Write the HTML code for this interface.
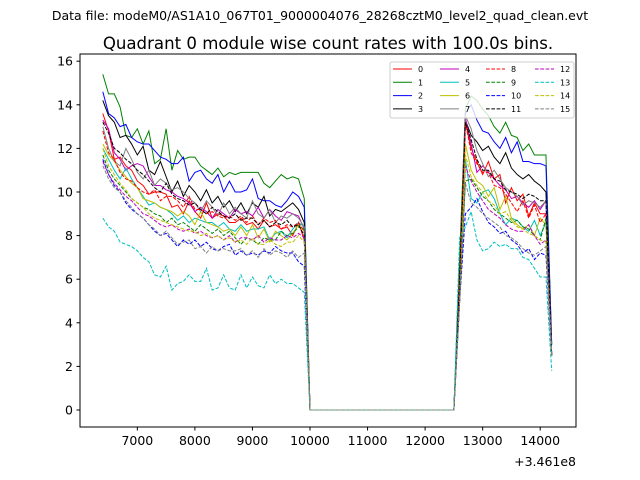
<!DOCTYPE html>
<html><head><meta charset="utf-8"><style>
body{margin:0;background:#fff;}
svg{display:block;font-family:"DejaVu Sans","Liberation Sans",sans-serif;}
</style></head><body>
<svg id="chart" width="640" height="480" viewBox="0 0 640 480">
<text x="320" y="20" text-anchor="middle" font-size="12.5">Data file: modeM0/AS1A10_067T01_9000004076_28268cztM0_level2_quad_clean.evt</text>
<text x="328" y="49" text-anchor="middle" font-size="16.6">Quadrant 0 module wise count rates with 100.0s bins.</text>
<g id="plot"></g>
<rect x="80" y="54" width="496" height="373" fill="none" stroke="#000" stroke-width="1"/>
<g id="xticks"></g>
<g id="yticks"></g>
<text x="576" y="466" text-anchor="end" font-size="12.5">+3.461e8</text>
<g id="legend"></g>
</svg>
<script>
const xTicks=[7000,8000,9000,10000,11000,12000,13000,14000];
const yTicks=[0,2,4,6,8,10,12,14,16];
const seriesNames=["0","1","2","3","4","5","6","7","8","9","10","11","12","13","14","15"];
const zeros=[0,0,0,0,0,0,0,0,0,0,0,0,0,0,0,0,0,0,0,0,0,0,0,0,0,0];
const seg1=[
[13.6,12.8,11.5,11.6,11.2,11.0,10.5,10.3,9.9,10.0,10.0,9.9,9.3,9.4,9.0,9.6,9.1,8.8,9.5,8.8,9.0,8.9,8.6,8.6,8.8,8.5,8.6,8.3,8.7,8.4,8.5,8.3,8.4,8.0,8.6,7.8],
[15.4,14.5,14.5,13.9,12.6,12.5,12.9,12.2,12.8,11.3,11.5,12.9,11.0,11.9,11.5,11.6,11.6,11.2,11.0,10.8,11.1,10.7,10.9,10.8,10.9,10.9,10.9,10.9,10.4,10.2,10.5,10.8,10.6,10.7,10.6,9.7],
[14.6,13.6,13.4,13.0,13.1,12.5,12.3,12.2,12.2,11.9,11.6,11.5,11.3,11.3,11.6,10.5,10.9,11.0,10.6,10.4,10.8,10.0,10.5,10.0,10.0,10.1,10.6,9.7,9.6,9.6,9.4,9.3,9.6,10.0,9.8,9.3],
[14.2,13.5,13.2,12.5,12.6,12.2,11.7,12.1,11.0,10.8,11.4,10.7,10.0,10.5,9.8,10.3,10.0,9.6,10.1,9.5,9.8,9.3,9.6,9.1,9.5,9.0,9.5,9.3,9.8,8.9,9.2,9.1,9.3,9.5,9.2,8.6],
[13.3,12.9,11.8,11.5,11.0,11.2,11.3,11.2,10.7,10.3,10.3,10.1,10.0,9.8,9.7,9.5,9.1,9.3,9.1,8.8,9.2,9.0,8.8,9.2,9.0,9.1,8.9,9.3,8.8,9.2,8.9,8.7,9.1,9.0,8.9,8.3],
[12.0,11.5,11.0,10.6,11.1,10.6,10.2,9.8,9.4,9.5,9.3,9.2,9.0,8.7,8.9,8.6,8.8,8.7,8.6,8.6,8.4,8.6,8.3,8.2,8.5,8.2,8.3,8.3,8.4,7.8,8.1,8.2,7.9,8.3,8.6,8.4],
[12.2,11.7,11.4,11.0,10.7,10.4,10.2,9.7,9.6,9.5,9.3,9.2,9.1,8.9,9.1,8.9,8.5,9.1,8.6,8.5,8.4,8.2,8.3,8.0,8.4,8.0,8.5,7.9,8.3,7.7,8.2,8.0,7.8,8.1,8.5,8.2],
[13.0,12.0,11.4,11.2,12.0,11.5,10.9,10.6,11.0,10.3,10.6,10.4,10.1,10.2,10.0,9.7,9.5,9.1,9.6,9.3,8.9,9.5,9.0,9.3,9.0,8.8,9.6,9.0,8.8,9.2,8.6,8.9,8.8,9.0,8.8,8.4],
[12.8,11.8,11.5,10.9,10.6,10.5,10.2,10.0,9.9,10.1,9.6,9.8,9.8,9.6,9.3,9.8,9.2,9.2,9.0,9.1,8.9,8.8,8.9,8.7,8.9,8.6,8.9,8.5,8.8,8.6,8.7,8.3,8.5,8.4,8.6,8.2],
[11.7,11.0,10.6,10.3,10.0,9.7,9.5,9.3,9.2,9.0,8.9,8.6,8.8,8.5,8.6,8.4,8.2,8.5,8.3,8.1,8.3,8.0,8.2,7.9,7.6,7.9,7.8,7.6,7.9,7.8,7.8,8.2,8.0,8.1,8.4,8.3],
[11.5,10.8,10.3,10.0,9.5,9.2,9.0,8.8,8.5,8.2,8.0,8.1,7.8,7.5,7.8,7.6,7.8,7.5,7.7,7.4,7.3,7.5,7.6,7.1,7.3,7.1,7.2,7.1,7.3,7.2,7.5,7.3,7.2,7.2,6.8,6.6],
[13.2,12.7,12.0,11.8,11.5,11.3,11.0,10.8,10.5,10.2,10.0,10.4,9.9,9.7,9.6,9.4,9.5,9.2,9.0,9.3,9.1,8.9,8.8,9.0,8.7,8.8,8.8,8.5,8.7,8.4,8.6,8.5,8.7,8.4,8.5,8.0],
[11.4,10.8,10.4,10.1,9.8,9.6,9.3,9.0,8.9,8.7,8.5,8.4,8.5,8.3,8.2,8.3,8.1,8.2,8.0,7.9,8.0,7.8,8.0,7.7,7.9,7.9,7.8,8.0,7.7,7.9,7.8,7.8,8.0,7.9,8.1,7.9],
[8.8,8.4,8.2,7.7,7.6,7.5,7.3,7.0,6.8,6.2,6.1,6.6,5.5,5.8,5.9,6.2,5.9,5.9,6.5,5.5,5.6,6.2,5.6,5.5,6.2,5.6,6.1,5.7,5.6,6.2,5.8,6.0,5.8,5.8,5.6,5.4],
[12.0,11.2,10.8,10.4,10.1,9.7,9.5,9.3,9.0,8.8,8.7,8.6,8.5,8.4,8.3,8.2,8.2,8.0,8.1,7.9,8.0,7.8,7.9,7.7,7.8,7.6,7.9,7.6,7.6,7.8,7.6,7.5,7.7,7.7,8.0,7.7],
[11.2,10.6,10.2,10.0,9.6,9.3,9.0,8.8,8.5,8.3,8.0,8.2,7.9,7.6,7.7,7.8,7.4,7.5,7.2,7.5,7.3,7.4,7.3,7.3,7.4,7.1,7.3,7.0,7.4,7.1,7.3,7.2,7.0,7.3,7.0,7.2]];
const seg2=[
[6,13.2,12.0,11.4,10.8,11.4,10.6,10.8,9.5,10.2,9.6,9.9,8.9,9.5,9.0,9.0,2.5],
[7,13.8,14.4,14.2,13.8,13.5,13.0,12.7,13.2,12.6,12.5,11.9,12.2,11.7,11.7,11.7,3.0],
[6,13.6,14.0,13.3,12.8,12.7,12.3,12.0,12.5,11.8,12.3,11.4,11.4,11.3,11.3,11.2,3.0],
[6,13.3,12.6,12.3,11.9,12.1,11.6,11.3,11.8,11.1,10.8,10.6,10.8,10.5,10.3,10.0,2.5],
[6,13.4,12.2,10.9,11.2,10.9,10.6,10.3,10.1,9.7,9.8,9.5,9.3,9.6,9.2,9.6,2.5],
[5,11.5,9.7,9.5,10.0,10.1,9.7,9.0,8.5,8.8,8.7,8.4,8.2,8.7,8.0,8.6,2.5],
[6,12.2,11.0,10.5,10.3,9.8,10.2,9.2,9.8,8.8,8.5,8.3,8.5,8.0,8.8,8.5,2.5],
[6,13.5,12.9,11.9,11.3,10.7,11.0,10.6,10.2,10.0,9.8,9.4,9.6,9.5,9.3,9.6,2.5],
[6,13.2,11.8,11.3,10.9,10.9,10.3,10.2,9.9,9.5,9.1,9.6,8.8,9.4,8.6,9.0,2.5],
[5,10.5,10.6,10.2,9.8,9.6,9.2,9.0,8.8,8.6,8.7,8.4,8.3,8.0,7.8,8.8,2.5],
[5,9.0,9.3,9.7,9.1,8.6,8.4,8.1,8.2,7.8,7.6,7.2,7.4,6.9,7.2,7.1,2.5],
[6,13.2,12.4,11.5,11.0,11.0,10.6,10.5,10.1,10.0,9.9,9.7,9.9,9.8,9.6,9.6,2.5],
[5,11.2,10.5,10.0,9.6,9.2,9.0,8.8,8.5,8.3,8.2,8.2,8.5,8.0,7.6,7.8,2.5],
[7.9,8.4,9.1,7.8,7.3,7.4,7.7,7.5,7.6,7.4,7.4,7.0,6.9,6.5,6.1,6.1,1.8],
[5,11.7,10.7,10.3,10.0,9.6,9.4,9.0,9.1,8.7,8.4,8.3,8.1,8.0,7.8,7.7,2.5],
[5,10.4,9.5,9.3,9.0,8.8,8.6,8.4,8.0,7.9,7.7,7.4,7.2,7.1,7.3,7.5,2.5]];
const tStart=6400, tStep=100;

const colors=["#ff0000","#008000","#0000ff","#000000","#bf00bf","#00bfbf","#bfbf00","#808080"];
const NS="http://www.w3.org/2000/svg";
function xs(t){return 310+(t-10000)*0.05755;}
function ys(v){return 410-v*21.8;}
function mk(tag,attrs,parent){const e=document.createElementNS(NS,tag);for(const k in attrs)e.setAttribute(k,attrs[k]);parent.appendChild(e);return e;}

const plot=document.getElementById('plot');
seriesNames.forEach((nm,i)=>{
  const vals=seg1[i].concat(zeros,seg2[i]);
  const pts=vals.map((v,j)=>xs(tStart+j*tStep).toFixed(2)+","+ys(v).toFixed(2)).join(" ");
  const pl=mk('polyline',{points:pts,fill:'none',stroke:colors[i%8],'stroke-width':1,'stroke-dasharray':i>=8?'3.7,1.6':'none'},plot);
  
  
});

const xg=document.getElementById('xticks');
xTicks.forEach(t=>{
  const x=xs(t);
  const l=mk('line',{x1:x,x2:x,y1:427,y2:430.5,stroke:'#000'},xg);
  
  
  const tx=mk('text',{x:x,y:445,'text-anchor':'middle','font-size':12.5},xg);
  tx.textContent=t;
  
  
});
const yg=document.getElementById('yticks');
yTicks.forEach(v=>{
  const y=ys(v);
  const l=mk('line',{x1:76.5,x2:80,y1:y,y2:y,stroke:'#000'},yg);
  
  
  const tx=mk('text',{x:73,y:y+4.5,'text-anchor':'end','font-size':12.5},yg);
  tx.textContent=v;
  
  
});

const lg=document.getElementById('legend');
const box=mk('rect',{x:390,y:62,width:184,height:56,rx:2,fill:'#fff','fill-opacity':0.8,stroke:'#ccc','stroke-width':1},lg);


const colX=[393,440,486,535];
seriesNames.forEach((nm,i)=>{
  const c=Math.floor(i/4), r=i%4;
  const x=colX[c], y=69+r*13.3;
  const g=mk('g',{},lg);
  
  
  mk('line',{x1:x,x2:x+19,y1:y,y2:y,stroke:colors[i%8],'stroke-width':1,'stroke-dasharray':i>=8?'3.7,1.6':'none'},g);
  const t=mk('text',{x:x+25,y:y+3,'font-size':8},g);
  t.textContent=nm;
});
</script>
</body></html>
